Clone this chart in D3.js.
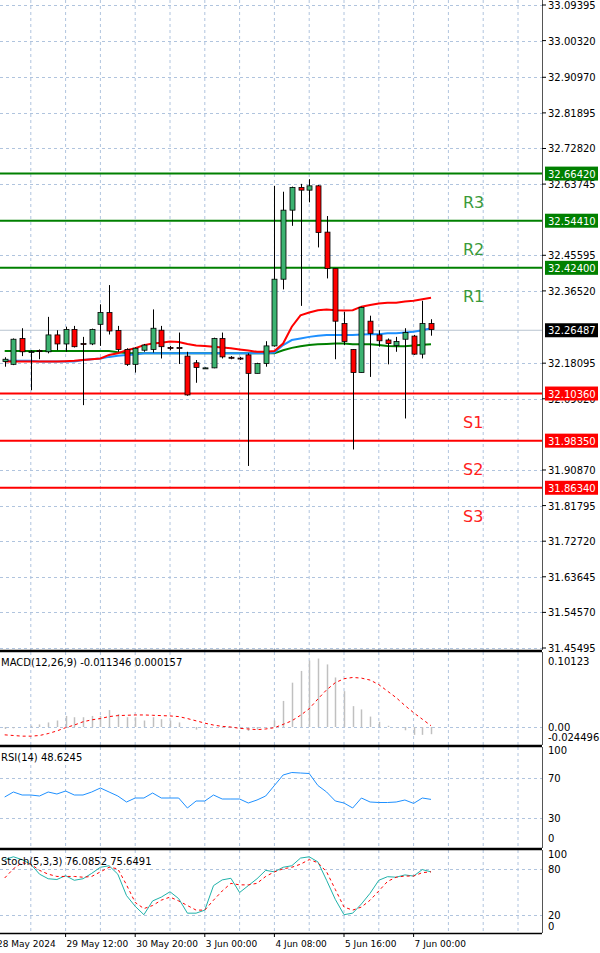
<!DOCTYPE html>
<html>
<head>
<meta charset="utf-8">
<script src="https://cdn.jsdelivr.net/npm/d3@7"></script>
<style>
  body { margin: 0; background: #fff; }
  text { font-family: "DejaVu Sans", sans-serif; }
</style>
</head>
<body>
<div id="chart"></div>
<script>
const width = 600;
const height = 953;

// OHLC, H4 candles
const opens  = [32.185,32.178,32.244,32.210,32.213,32.210,32.253,32.230,32.267,32.231,32.230,32.280,32.310,32.264,32.216,32.178,32.214,32.216,32.265,32.221,32.221,32.199,32.182,32.168,32.169,32.244,32.196,32.194,32.202,32.155,32.180,32.225,32.395,32.571,32.629,32.622,32.633,32.515,32.422,32.282,32.216,32.157,32.288,32.253,32.240,32.226,32.242,32.250,32.204,32.282];
const highs  = [32.196,32.244,32.270,32.214,32.216,32.299,32.265,32.274,32.276,32.248,32.269,32.331,32.380,32.276,32.219,32.221,32.230,32.318,32.276,32.225,32.259,32.210,32.189,32.170,32.246,32.259,32.199,32.197,32.206,32.182,32.237,32.633,32.618,32.631,32.638,32.650,32.635,32.556,32.422,32.312,32.217,32.325,32.302,32.265,32.244,32.248,32.270,32.253,32.340,32.293];
const lows   = [32.172,32.176,32.199,32.112,32.191,32.206,32.214,32.210,32.221,32.074,32.227,32.225,32.254,32.210,32.174,32.157,32.210,32.208,32.193,32.214,32.179,32.098,32.131,32.167,32.168,32.193,32.191,32.189,31.919,32.155,32.172,32.223,32.369,32.531,32.327,32.591,32.476,32.397,32.191,32.227,31.961,32.157,32.146,32.223,32.178,32.210,32.040,32.202,32.193,32.251];
const closes = [32.191,32.242,32.210,32.211,32.212,32.253,32.230,32.267,32.223,32.230,32.267,32.310,32.263,32.216,32.178,32.219,32.227,32.270,32.223,32.220,32.220,32.100,32.170,32.169,32.244,32.197,32.195,32.193,32.155,32.180,32.225,32.395,32.571,32.629,32.622,32.633,32.514,32.422,32.288,32.236,32.157,32.323,32.257,32.238,32.231,32.236,32.259,32.204,32.282,32.267];

// moving averages
const maRed   = [32.185,32.185,32.185,32.185,32.185,32.185,32.185,32.186,32.187,32.189,32.191,32.193,32.202,32.206,32.214,32.219,32.227,32.231,32.233,32.236,32.235,32.230,32.226,32.225,32.223,32.221,32.219,32.216,32.213,32.210,32.210,32.212,32.231,32.274,32.303,32.310,32.316,32.318,32.316,32.315,32.316,32.325,32.329,32.333,32.335,32.335,32.338,32.340,32.344,32.348];
const maBlue  = [32.187,32.187,32.187,32.187,32.185,32.185,32.185,32.185,32.185,32.189,32.191,32.193,32.197,32.200,32.202,32.203,32.206,32.206,32.206,32.206,32.206,32.206,32.206,32.206,32.206,32.206,32.206,32.206,32.206,32.206,32.206,32.208,32.227,32.240,32.244,32.248,32.251,32.253,32.253,32.253,32.253,32.254,32.255,32.255,32.257,32.257,32.259,32.261,32.265,32.270];
const maGreen = [32.212,32.212,32.212,32.212,32.212,32.212,32.212,32.212,32.212,32.212,32.212,32.212,32.212,32.209,32.207,32.206,32.206,32.206,32.206,32.206,32.206,32.206,32.206,32.206,32.206,32.206,32.206,32.206,32.206,32.206,32.206,32.206,32.214,32.220,32.224,32.227,32.229,32.230,32.231,32.231,32.229,32.229,32.229,32.227,32.225,32.224,32.224,32.226,32.228,32.229];

// levels
const levelNames  = ["R3","R2","R1","S1","S2","S3"];
const levelValues = [32.6642,32.5441,32.4240,32.1036,31.9835,31.8634];
const lastPrice = 32.26487;
const priceTicks = [33.09395,33.00320,32.90970,32.81895,32.72820,32.63745,32.45595,32.36520,32.18095,32.09020,31.90870,31.81795,31.72720,31.63645,31.54570,31.45495];

// MACD(12,26,9)
const macdHist = [-0.003,-0.002,0.000,0.002,0.004,0.007,0.010,0.017,0.015,0.015,0.017,0.017,0.026,0.020,0.015,0.015,0.010,0.015,0.012,0.010,0.007,0.000,-0.004,-0.001,0.000,-0.001,-0.001,-0.003,-0.006,-0.004,-0.001,0.010,0.040,0.068,0.086,0.102,0.105,0.096,0.076,0.055,0.032,0.027,0.016,0.008,0.002,-0.001,-0.005,-0.012,-0.012,-0.011];
const macdSignal = [-0.012,-0.013,-0.014,-0.014,-0.013,-0.010,-0.006,-0.001,0.003,0.008,0.011,0.013,0.016,0.0175,0.018,0.0185,0.0185,0.018,0.0175,0.017,0.016,0.013,0.0095,0.006,0.003,0.001,0.000,-0.002,-0.003,-0.004,-0.003,-0.001,0.004,0.0095,0.018,0.028,0.043,0.057,0.068,0.074,0.076,0.075,0.072,0.065,0.055,0.045,0.033,0.022,0.012,0.002];

// RSI(14)
const rsi = [51,56,53,53,52,56,54,57,53,53,56,60,56,52,46,50,50,55,50,50,50,40,47,47,53,49,49,49,45,48,52,62.5,73,75.5,75,74.5,62.5,56,47,45,40,50,46,45.5,45.5,46,48,44.6,50,48.6];

// Stoch(5,3,3)
const stochMain = [92,95.7,92,86,73,67,66,71,65,67,74,82,84,73,45,31,20,38,43,50,41,22,22,26,58,65.5,67.6,49,58,67,78,76,82,84,94,95.7,89,65,40,20,22,34,48,65,69.7,69,72,70.5,79,76];
const stochSignal = [68,80,88,86,78,73,70,70,70,69,70,76,82,80,59,36,28,32,39,43,38,32,26,26,39,51,61,59,59,61,70,76,80,82,86,92,88,76,53,30,26,30,39,51,63.5,69,70.5,70.5,75,76];

// time axis labels (candle index -> text)
const dateIdx    = [-1,7,15,23,31,39,47];
const dateLabels = ["28 May 2024","29 May 12:00","30 May 20:00","3 Jun 00:00","4 Jun 08:00","5 Jun 16:00","7 Jun 00:00"];

const axisX = 542;
const gridColor = "#b0c4de";
const idx = d3.range(opens.length);

const x = d3.scaleLinear().domain([0, 49]).range([4.7, 431]);
const y = d3.scaleLinear().domain([31.45495, 33.09395]).range([648, 5]);
const yM = d3.scaleLinear().domain([-0.024496, 0.10123]).range([743, 661]);
const yR = d3.scaleLinear().domain([0, 100]).range([848, 748]);
const yS = d3.scaleLinear().domain([0, 100]).range([930, 853.5]);

const panels = [
  {top: 0, bottom: 650},
  {top: 652, bottom: 745},
  {top: 747, bottom: 848},
  {top: 850, bottom: 933}
];

const svg = d3.select("#chart").append("svg")
  .attr("width", width).attr("height", height);

// vertical grid, every 4 candles
const vIdx = d3.range(3, 62, 4).filter(i => x(i) < axisX);
panels.forEach(p => {
  svg.append("g").selectAll("line").data(vIdx).join("line")
    .attr("x1", d => x(d)).attr("x2", d => x(d))
    .attr("y1", p.top).attr("y2", p.bottom)
    .attr("stroke", gridColor).attr("stroke-dasharray", "3,3");
});

function hGrid(vals, scale) {
  svg.append("g").selectAll("line").data(vals).join("line")
    .attr("x1", 0).attr("x2", axisX)
    .attr("y1", d => Math.round(scale(d)) + 0.5).attr("y2", d => Math.round(scale(d)) + 0.5)
    .attr("stroke", gridColor).attr("stroke-dasharray", "3,3");
}
hGrid(priceTicks, y);
hGrid([0], yM);
hGrid([70, 30], yR);
hGrid([80, 20], yS);

// last price line
svg.append("line").attr("x1", 0).attr("x2", axisX)
  .attr("y1", y(lastPrice)).attr("y2", y(lastPrice))
  .attr("stroke", "#b8c4d0").attr("stroke-width", 1);

// level lines
const levelColor = i => i < 3 ? "#008000" : "#ff0000";
svg.append("g").selectAll("line").data(levelValues).join("line")
  .attr("x1", 0).attr("x2", axisX)
  .attr("y1", d => y(d)).attr("y2", d => y(d))
  .attr("stroke", (d, i) => levelColor(i)).attr("stroke-width", 2);
svg.append("g").selectAll("text").data(levelValues).join("text")
  .attr("x", 463).attr("y", d => y(d) + 34)
  .attr("font-size", 16)
  .attr("fill", (d, i) => i < 3 ? "#3a9a3a" : "#ff2020")
  .text((d, i) => levelNames[i]);

// moving averages
const line = d3.line().x((d, i) => x(i)).y(d => y(d));
[[maGreen, "#008000"], [maBlue, "#1e90ff"], [maRed, "#ff0000"]].forEach(([arr, c]) => {
  svg.append("path").datum(arr).attr("d", line)
    .attr("fill", "none").attr("stroke", c).attr("stroke-width", 2);
});

// candles
const candles = svg.append("g");
candles.selectAll("line").data(idx).join("line")
  .attr("x1", i => Math.round(x(i)) + 0.5).attr("x2", i => Math.round(x(i)) + 0.5)
  .attr("y1", i => y(highs[i])).attr("y2", i => y(lows[i]))
  .attr("stroke", "#000");
candles.selectAll("rect").data(idx).join("rect")
  .attr("x", i => Math.round(x(i)) - 2)
  .attr("width", 5)
  .attr("y", i => y(Math.max(opens[i], closes[i])))
  .attr("height", i => Math.max(1, Math.abs(y(opens[i]) - y(closes[i]))))
  .attr("fill", i => closes[i] >= opens[i] ? "#3cb371" : "#ff0000")
  .attr("stroke", "#000").attr("stroke-width", 0.8);

// MACD
svg.append("g").selectAll("line").data(idx).join("line")
  .attr("x1", i => Math.round(x(i)) + 0.5).attr("x2", i => Math.round(x(i)) + 0.5)
  .attr("y1", yM(0)).attr("y2", i => yM(macdHist[i]))
  .attr("stroke", "#c0c0c0").attr("stroke-width", 1.5);
svg.append("path").datum(macdSignal)
  .attr("d", d3.line().x((d, i) => x(i)).y(d => yM(d)))
  .attr("fill", "none").attr("stroke", "#ff0000").attr("stroke-dasharray", "3,3");

// RSI
svg.append("path").datum(rsi)
  .attr("d", d3.line().x((d, i) => x(i)).y(d => yR(d)))
  .attr("fill", "none").attr("stroke", "#1e90ff").attr("stroke-width", 1);

// Stochastic
svg.append("path").datum(stochMain)
  .attr("d", d3.line().x((d, i) => x(i)).y(d => yS(d)))
  .attr("fill", "none").attr("stroke", "#20b2aa").attr("stroke-width", 1);
svg.append("path").datum(stochSignal)
  .attr("d", d3.line().x((d, i) => x(i)).y(d => yS(d)))
  .attr("fill", "none").attr("stroke", "#ff0000").attr("stroke-dasharray", "3,3");

// panel borders
panels.forEach((p, k) => {
  svg.append("line").attr("x1", axisX + 0.5).attr("x2", axisX + 0.5)
    .attr("y1", p.top).attr("y2", p.bottom).attr("stroke", "#555");
  if (k > 0) {
    svg.append("line").attr("x1", 0).attr("x2", axisX)
      .attr("y1", p.top - 0.5).attr("y2", p.top - 0.5).attr("stroke", "#000").attr("stroke-width", 1.5);
  }
  svg.append("line").attr("x1", 0).attr("x2", axisX)
    .attr("y1", p.bottom + 0.5).attr("y2", p.bottom + 0.5).attr("stroke", "#000").attr("stroke-width", 1.5);
});

// price axis
const axisText = (sel) => sel.attr("font-size", 10).attr("fill", "#000");
const pAxis = svg.append("g");
pAxis.selectAll("line").data(priceTicks).join("line")
  .attr("x1", axisX).attr("x2", axisX + 4)
  .attr("y1", d => y(d)).attr("y2", d => y(d)).attr("stroke", "#000");
pAxis.selectAll("text").data(priceTicks).join("text")
  .attr("x", 548).attr("y", d => y(d) + 4)
  .call(axisText).text(d => d.toFixed(5));

// level boxes on axis
const boxes = svg.append("g");
levelValues.forEach((v, i) => {
  boxes.append("rect").attr("x", 545).attr("y", y(v) - 7).attr("width", 53).attr("height", 14)
    .attr("fill", i < 3 ? "#008000" : "#ff0000");
  boxes.append("text").attr("x", 548).attr("y", y(v) + 4)
    .attr("font-size", 10).attr("fill", "#fff").text(v.toFixed(5));
});
boxes.append("rect").attr("x", 545).attr("y", y(lastPrice) - 7).attr("width", 53).attr("height", 14).attr("fill", "#000");
boxes.append("text").attr("x", 548).attr("y", y(lastPrice) + 4)
  .attr("font-size", 10).attr("fill", "#fff").text(lastPrice.toFixed(5));

// indicator axes (label positions nudged apart like the terminal does)
function sideLabels(ys, texts) {
  svg.append("g").selectAll("text").data(ys).join("text")
    .attr("x", 548).attr("y", d => d + 4)
    .call(axisText).text((d, i) => texts[i]);
}
sideLabels([yM(0.10123), yM(0), yM(0) + 10], ["0.10123", "0.00", "-0.024496"]);
sideLabels([750, 778, 818, 838], ["100", "70", "30", "0"]);
sideLabels([yS(100), yS(80), yS(20), yS(0) - 4], ["100", "80", "20", "0"]);

// panel titles
const titles = [
  [662, "MACD(12,26,9) -0.011346 0.000157"],
  [757, "RSI(14) 48.6245"],
  [861, "Stoch(5,3,3) 76.0852 75.6491"]
];
titles.forEach(([ty, t]) => {
  svg.append("text").attr("x", 1).attr("y", ty + 4).attr("font-size", 10).attr("fill", "#000").text(t);
});

// time axis
const tAxis = svg.append("g");
tAxis.selectAll("line").data(dateIdx).join("line")
  .attr("x1", i => x(i)).attr("x2", i => x(i))
  .attr("y1", 933).attr("y2", 937).attr("stroke", "#000");
tAxis.selectAll("text").data(dateIdx).join("text")
  .attr("x", i => x(i) + 1).attr("y", 947)
  .attr("font-size", 9).attr("fill", "#000")
  .text((d, i) => dateLabels[i]);
</script>
</body>
</html>
